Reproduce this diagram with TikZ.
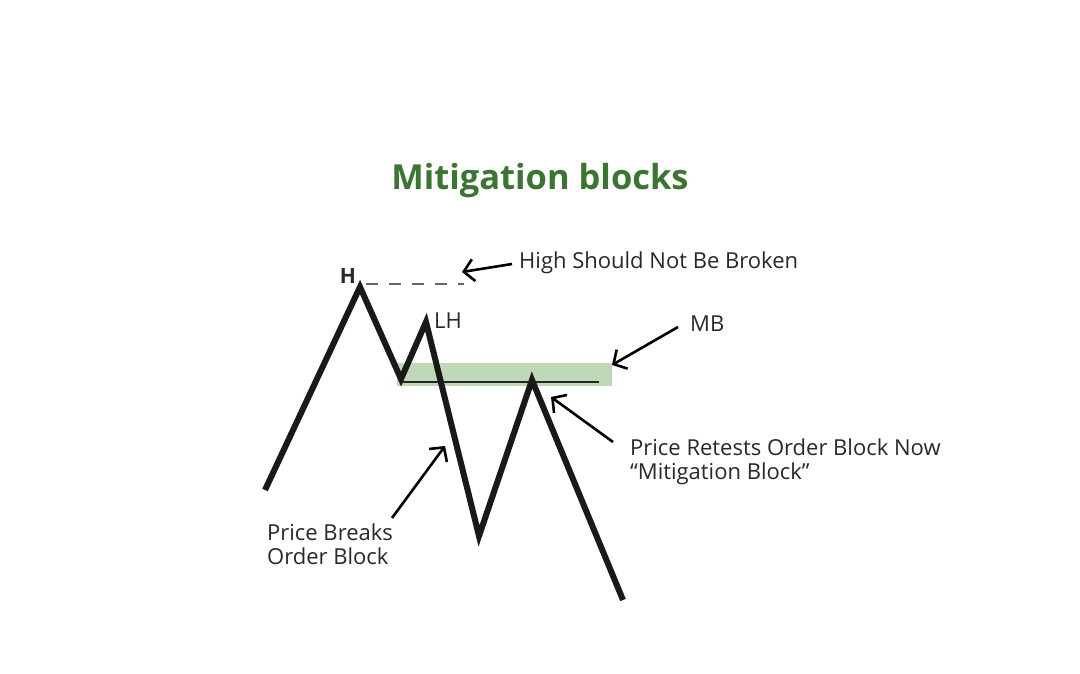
\documentclass[tikz,border=0pt]{standalone}
\usepackage{fontspec}
\setmainfont{Open Sans}
\usetikzlibrary{arrows.meta}
\definecolor{titlegreen}{RGB}{58,118,50}
\definecolor{blockgreen}{RGB}{190,216,184}
\definecolor{txt}{RGB}{40,40,40}
\tikzset{
  price/.style={line width=6pt, line join=miter, black!90},
  callout/.style={line width=2.6pt, black, -{Straight Barb[length=10pt,width=22pt,line width=2.6pt]}},
  lbl/.style={anchor=west, inner sep=0pt, text=txt, font=\fontsize{22}{24}\selectfont},
}
\begin{document}
\begin{tikzpicture}[x=1pt,y=-1pt]
\useasboundingbox (0,0) rectangle (1080,674);
\fill[white] (0,0) rectangle (1080,674);
% title
\node[font=\fontsize{34.5}{40}\selectfont\bfseries, text=titlegreen] (title) at (540,181) {Mitigation blocks};
% mitigation block
\fill[blockgreen] (397,363) rectangle (612,386);
\coordinate (obl) at (403,382);
\coordinate (obr) at (599,382);
\draw[line width=2pt, black!85] (obl) -- (obr);
% price path
\coordinate (p0) at (265,490);
\coordinate (H) at (360,287);
\coordinate (p2) at (401,379);
\coordinate (LH) at (426,322);
\coordinate (p4) at (479,536);
\coordinate (p5) at (532,380);
\coordinate (p6) at (623,600);
\draw[price] (p0) -- (H) -- (p2) -- (LH) -- (p4) -- (p5) -- (p6);
% dashed high
\coordinate (dh1) at (366,284);
\coordinate (dh2) at (464,284);
\draw[line width=2.6pt, black!60, dash pattern=on 12pt off 11pt] (dh1) -- (dh2);
\node[font=\fontsize{21}{23}\selectfont\bfseries, text=txt] (hl) at (348,276) {H};
\node[lbl] (lhl) at (434,321) {LH};
% labels
\node[lbl] (hs) at (519,263) {High Should Not Be Broken};
\coordinate (hsTail) at (512,264);
\coordinate (hsTip) at (462,272);
\draw[callout] (hsTail) -- (hsTip);
\node[lbl] (mb) at (690,324) {MB};
\coordinate (mbTail) at (678,327);
\coordinate (mbTip) at (612,365);
\draw[callout] (mbTail) -- (mbTip);
\node[lbl, align=left, anchor=north west] (rt) at (630,439) {Price Retests Order Block Now\\“Mitigation Block”};
\coordinate (rtTail) at (613,442);
\coordinate (rtTip) at (551,397);
\draw[callout] (rtTail) -- (rtTip);
\node[lbl, align=left, anchor=north west] (pb) at (267,524) {Price Breaks\\Order Block};
\coordinate (pbTail) at (392,518);
\coordinate (pbTip) at (445,446);
\draw[callout] (pbTail) -- (pbTip);
\end{tikzpicture}
\end{document}
